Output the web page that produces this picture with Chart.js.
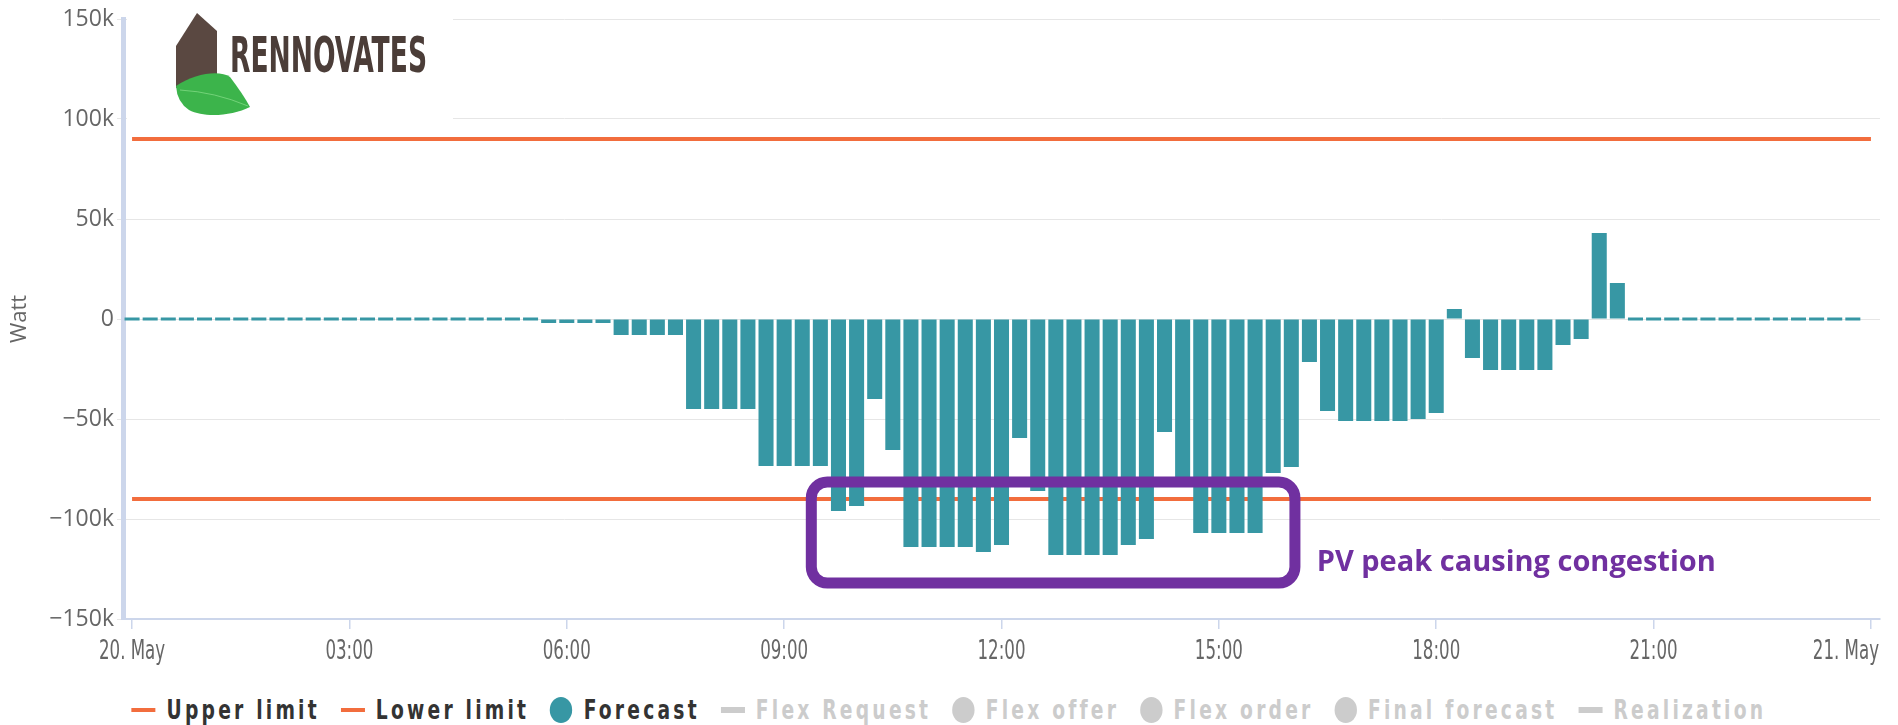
<!DOCTYPE html>
<html>
<head>
<meta charset="utf-8">
<title>Forecast vs limits</title>
<script src="https://cdn.jsdelivr.net/npm/chart.js@4.4.1/dist/chart.umd.min.js"></script>
<style>
  html, body { margin: 0; padding: 0; background: #fff; }
  #wrap { position: relative; width: 1898px; height: 725px; overflow: hidden; }
  #chartBox { position: absolute; left: 0; top: 0; width: 1898px; height: 680px; }
  #legend {
    position: absolute; left: 0; top: 680px; width: 1898px; height: 45px;
    box-sizing: border-box; padding-top: 15px;
    display: flex; justify-content: center; align-items: center;
  }
  #legendInner {
    display: flex; align-items: center; white-space: nowrap;
    transform: scaleX(0.8); transform-origin: center center;
    font-family: 'DejaVu Sans Condensed', 'DejaVu Sans', sans-serif;
    font-weight: bold; font-size: 26px; letter-spacing: 4px;
  }
  .item { display: flex; align-items: center; margin-right: 26px; color: #333; }
  .item:last-child { margin-right: 0; }
  .item.off { color: #ccc; }
  .sym-line { width: 30px; height: 4px; margin-right: 14px; }
  .item.off .sym-line { height: 6px; }
  .sym-circle { width: 28px; height: 26px; border-radius: 50%; margin-right: 14px; }
</style>
</head>
<body>
<div id="wrap">
  <div id="chartBox"><canvas id="forecastChart"></canvas></div>
  <div id="legend"><div id="legendInner"></div></div>
</div>
<script>
const CONDENSED = "'DejaVu Sans Condensed', 'DejaVu Sans', sans-serif";
const SANS = "'Open Sans', 'DejaVu Sans', sans-serif";

const TEAL = '#3797a4';
const ORANGE = '#f26d3d';
const PURPLE = '#7030a0';
const GREY = '#cccccc';

// 15 minute slots from 20. May 00:00 up to 21. May 00:00
const slotLabels = [];
for (let i = 0; i <= 96; i++) {
  const h = String(Math.floor(i / 4) % 24).padStart(2, '0');
  const m = String((i % 4) * 15).padStart(2, '0');
  slotLabels.push(i === 96 ? '21. May 00:00' : '20. May ' + h + ':' + m);
}

// Forecast per 15 minute slot (W)
const forecastW = [
  0, 0, 0, 0, 0, 0, 0, 0, 0, 0, 0, 0,                                   // 00:00 - 02:45
  0, 0, 0, 0, 0, 0, 0, 0, 0, 0, 0, -2000,                               // 03:00 - 05:45
  -2000, -2000, -2000, -8000, -8000, -8000, -8000, -45000, -45000, -45000, -45000, -73500,      // 06:00 - 08:45
  -73500, -73500, -73500, -96000, -93500, -40000, -65500, -114000, -114000, -114000, -114000, -116500, // 09:00 - 11:45
  -113000, -59500, -86000, -118000, -118000, -118000, -118000, -113000, -110000, -56500, -80000, -107000, // 12:00 - 14:45
  -107000, -107000, -107000, -77000, -74000, -21500, -46000, -51000, -51000, -51000, -51000, -50000,     // 15:00 - 17:45
  -47000, 5000, -19500, -25500, -25500, -25500, -25500, -13000, -10000, 43000, 18000, 0,                // 18:00 - 20:45
  0, 0, 0, 0, 0, 0, 0, 0, 0, 0, 0, 0                                    // 21:00 - 23:45
];

const upperLimit = 90000;
const lowerLimit = -90000;

const xTickLabels = ['20. May', '03:00', '06:00', '09:00', '12:00', '15:00', '18:00', '21:00', '21. May'];
const yTickValues = [-150000, -100000, -50000, 0, 50000, 100000, 150000];
const yTickLabels = ['\u2212150k', '\u2212100k', '\u221250k', '0', '50k', '100k', '150k'];

// annotation around the congestion peak (slot index / W)
const congestion = { fromSlot: 37.5, toSlot: 64.2, top: -81500, bottom: -132000,
  text: 'PV peak causing congestion', textSlot: 65.4, textValue: -122000 };

// logo in the upper left corner
const logoPlugin = {
  id: 'logo',
  beforeDatasetsDraw(chart) {
    const ctx = chart.ctx;
    ctx.save();
    ctx.fillStyle = '#fff';
    ctx.fillRect(127, 0, 326, 128);
    // house
    ctx.fillStyle = '#5a4841';
    ctx.beginPath();
    ctx.moveTo(176, 46);
    ctx.lineTo(197, 13);
    ctx.lineTo(217, 31);
    ctx.lineTo(217, 76);
    ctx.lineTo(176, 88);
    ctx.closePath();
    ctx.fill();
    // leaf
    ctx.fillStyle = '#3cb44b';
    ctx.beginPath();
    ctx.moveTo(176, 86);
    ctx.bezierCurveTo(195, 73, 220, 70, 230, 77);
    ctx.quadraticCurveTo(243, 94, 250, 107);
    ctx.bezierCurveTo(232, 116, 204, 118, 189, 110);
    ctx.quadraticCurveTo(177, 102, 176, 86);
    ctx.fill();
    ctx.strokeStyle = 'rgba(150,230,150,0.6)';
    ctx.lineWidth = 1;
    ctx.beginPath();
    ctx.moveTo(180, 90);
    ctx.quadraticCurveTo(215, 92, 248, 106);
    ctx.stroke();
    // name
    ctx.fillStyle = '#4b3d38';
    ctx.font = 'bold 50px ' + CONDENSED;
    ctx.textBaseline = 'alphabetic';
    const w = ctx.measureText('RENNOVATES').width;
    ctx.translate(230, 72);
    ctx.scale(197 / w, 1);
    ctx.fillText('RENNOVATES', 0, 0);
    ctx.restore();
  }
};

// narrow x axis labels, the last one kept inside the plot
const xLabelPlugin = {
  id: 'xLabels',
  afterDraw(chart) {
    const ctx = chart.ctx;
    const xs = chart.scales.x;
    ctx.save();
    ctx.font = '26px ' + CONDENSED;
    ctx.fillStyle = '#666';
    ctx.textBaseline = 'middle';
    const squeeze = 48 / ctx.measureText('03:00').width;
    xTickLabels.forEach((lab, k) => {
      const last = k === xTickLabels.length - 1;
      const x = last ? chart.chartArea.right - 1 : xs.getPixelForTick(k * 12);
      ctx.save();
      ctx.textAlign = last ? 'right' : 'center';
      ctx.translate(x, xs.top + 33);
      ctx.scale(squeeze, 1);
      ctx.fillText(lab, 0, 0);
      ctx.restore();
    });
    ctx.restore();
  }
};

const annotationPlugin = {
  id: 'congestionBox',
  afterDatasetsDraw(chart) {
    const ctx = chart.ctx;
    const xs = chart.scales.x, ys = chart.scales.y;
    const x1 = xs.getPixelForValue(congestion.fromSlot);
    const x2 = xs.getPixelForValue(congestion.toSlot);
    const y1 = ys.getPixelForValue(congestion.top);
    const y2 = ys.getPixelForValue(congestion.bottom);
    const r = 16;
    ctx.save();
    ctx.strokeStyle = PURPLE;
    ctx.lineWidth = 11;
    ctx.beginPath();
    ctx.moveTo(x1 + r, y1);
    ctx.arcTo(x2, y1, x2, y2, r);
    ctx.arcTo(x2, y2, x1, y2, r);
    ctx.arcTo(x1, y2, x1, y1, r);
    ctx.arcTo(x1, y1, x2, y1, r);
    ctx.closePath();
    ctx.stroke();
    ctx.fillStyle = PURPLE;
    ctx.font = "bold 29px 'Open Sans', Lato, sans-serif";
    ctx.textBaseline = 'middle';
    ctx.textAlign = 'left';
    ctx.fillText(congestion.text, xs.getPixelForValue(congestion.textSlot), ys.getPixelForValue(congestion.textValue));
    ctx.restore();
  }
};

const ctx = document.getElementById('forecastChart').getContext('2d');
const chart = new Chart(ctx, {
  data: {
    labels: slotLabels,
    datasets: [
      { type: 'line', label: 'Upper limit', data: slotLabels.map(() => upperLimit),
        borderColor: ORANGE, borderWidth: 4, pointRadius: 0, order: 2, legendSymbol: 'line' },
      { type: 'line', label: 'Lower limit', data: slotLabels.map(() => lowerLimit),
        borderColor: ORANGE, borderWidth: 4, pointRadius: 0, order: 2, legendSymbol: 'line' },
      { type: 'bar', label: 'Forecast', data: forecastW, backgroundColor: TEAL,
        barPercentage: 0.83, categoryPercentage: 1, minBarLength: 3, order: 1, legendSymbol: 'circle' },
      { type: 'line', label: 'Flex Request', data: [], hidden: true, borderColor: GREY, legendSymbol: 'line' },
      { type: 'bar', label: 'Flex offer', data: [], hidden: true, backgroundColor: GREY, legendSymbol: 'circle' },
      { type: 'bar', label: 'Flex order', data: [], hidden: true, backgroundColor: GREY, legendSymbol: 'circle' },
      { type: 'bar', label: 'Final forecast', data: [], hidden: true, backgroundColor: GREY, legendSymbol: 'circle' },
      { type: 'line', label: 'Realization', data: [], hidden: true, borderColor: GREY, legendSymbol: 'line' }
    ]
  },
  options: {
    responsive: true,
    maintainAspectRatio: false,
    animation: false,
    layout: { padding: { top: 19, right: 18, left: 0, bottom: 0 } },
    plugins: {
      legend: { display: false },
      tooltip: { enabled: false }
    },
    scales: {
      x: {
        type: 'category',
        offset: true,
        grid: {
          offset: false,
          drawOnChartArea: false,
          drawTicks: true,
          tickLength: 10,
          lineWidth: 1.5,
          color: c => (c.index % 12 === 0 ? '#ccd6eb' : 'rgba(0,0,0,0)')
        },
        border: { display: true, color: '#ccd6eb', width: 2 },
        ticks: { display: false, autoSkip: false, maxRotation: 0 },
        afterFit: s => { s.height = 61; s.paddingLeft = 0; s.paddingRight = 0; }
      },
      y: {
        min: -150000,
        max: 150000,
        afterBuildTicks: s => { s.ticks = yTickValues.map(v => ({ value: v })); },
        grid: { color: '#e6e6e6', lineWidth: 1, drawTicks: true, tickLength: 6 },
        border: { display: true, color: '#ccd6eb', width: 5 },
        ticks: {
          color: '#666',
          padding: 3,
          font: { family: SANS, size: 23 },
          callback: (v, i) => yTickLabels[i]
        },
        title: { display: true, text: 'Watt', color: '#666', font: { family: SANS, size: 22 }, padding: { top: 7, bottom: 0 } },
        afterFit: s => { s.width = 123; s.paddingTop = 0; s.paddingBottom = 0; }
      }
    }
  },
  plugins: [logoPlugin, annotationPlugin, xLabelPlugin]
});

// legend below the chart, built from the datasets
const legendEl = document.getElementById('legendInner');
chart.data.datasets.forEach(ds => {
  const item = document.createElement('span');
  item.className = 'item' + (ds.hidden ? ' off' : '');
  const sym = document.createElement('span');
  sym.className = ds.legendSymbol === 'line' ? 'sym-line' : 'sym-circle';
  sym.style.background = ds.hidden ? GREY : (ds.type === 'line' ? ds.borderColor : ds.backgroundColor);
  const txt = document.createElement('span');
  txt.textContent = ds.label;
  item.appendChild(sym);
  item.appendChild(txt);
  legendEl.appendChild(item);
});
</script>
</body>
</html>
